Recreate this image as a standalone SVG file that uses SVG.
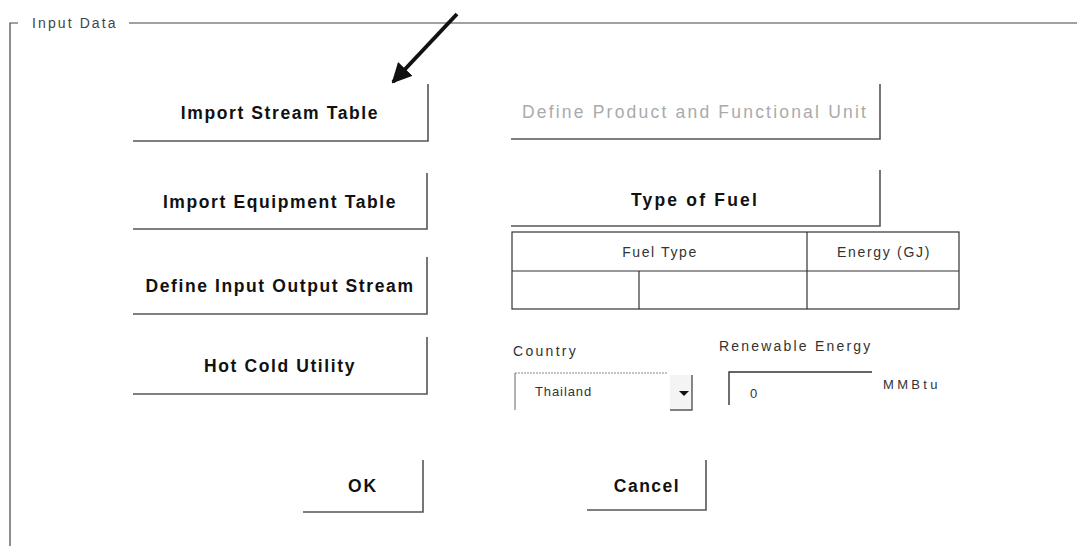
<svg xmlns="http://www.w3.org/2000/svg" width="1077" height="546" viewBox="0 0 1077 546">
<style>
.frame{stroke:#444;stroke-width:1.2;fill:none}
.edge{stroke:#555;stroke-width:1.6;fill:none}
.grid{stroke:#333;stroke-width:1.2;fill:none}
.btn{font-family:"Liberation Sans",Arial,sans-serif;font-size:17.5px;font-weight:bold;fill:#111;text-anchor:middle;letter-spacing:1.6px}
.lbl{font-family:"Liberation Sans",Arial,sans-serif;font-size:14px;fill:#333;letter-spacing:2px}
.dim{fill:#aaa;font-weight:normal;letter-spacing:2.2px}
</style>
<defs>
<marker id="ah" viewBox="0 0 10 10" refX="9" refY="5" markerWidth="5" markerHeight="5" orient="auto-start-reverse">
<path d="M0,0 L10,5 L0,10 z" fill="#111"/>
</marker>
</defs>
<rect width="1077" height="546" fill="#fff"/>
<g id="groupbox">
<path class="frame" d="M10,546 V23 H18 M129,23 H1077"/>
<text class="lbl" x="32" y="28" style="fill:#444;letter-spacing:2.1px">Input Data</text>
</g>
<g id="connectors">
<line x1="457" y1="14" x2="393" y2="82" stroke="#111" stroke-width="4" marker-end="url(#ah)"/>
</g>
<g id="btn-import-stream">
<path class="edge" d="M133,141 H428 V84"/>
<text class="btn" x="280" y="119">Import Stream Table</text>
</g>
<g id="btn-import-equipment">
<path class="edge" d="M133,229 H427 V173"/>
<text class="btn" x="280" y="208">Import Equipment Table</text>
</g>
<g id="btn-define-io">
<path class="edge" d="M133,314 H427 V257"/>
<text class="btn" x="280" y="292">Define Input Output Stream</text>
</g>
<g id="btn-hot-cold">
<path class="edge" d="M133,394 H427 V337"/>
<text class="btn" x="280" y="372">Hot Cold Utility</text>
</g>
<g id="btn-define-product">
<path class="edge" d="M511,139 H880 V84"/>
<text class="btn dim" x="695" y="118">Define Product and Functional Unit</text>
</g>
<g id="btn-type-fuel">
<path class="edge" d="M511,226 H880 V170"/>
<text class="btn" x="695" y="206" style="letter-spacing:2.2px">Type of Fuel</text>
</g>
<g id="fuel-table">
<rect class="grid" x="512" y="232" width="447" height="77"/>
<line class="grid" x1="512" y1="271" x2="959" y2="271"/>
<line class="grid" x1="807" y1="232" x2="807" y2="309"/>
<line class="grid" x1="639" y1="271" x2="639" y2="309"/>
<text class="lbl" x="660" y="257" text-anchor="middle" style="letter-spacing:1.6px">Fuel Type</text>
<text class="lbl" x="884" y="257" text-anchor="middle" style="letter-spacing:1.7px">Energy (GJ)</text>
</g>
<g id="country">
<text class="lbl" x="513" y="356" style="letter-spacing:2.3px">Country</text>
<path d="M515,373 H668" stroke="#888" stroke-width="1" stroke-dasharray="2,1" fill="none"/>
<line x1="515" y1="373" x2="515" y2="410" stroke="#666" stroke-width="1"/>
<rect x="670" y="375" width="22" height="34" fill="#f4f4f4"/>
<path d="M692,375 V410 H670" stroke="#555" stroke-width="1.4" fill="none"/>
<path d="M679,391 H689 L684,396 z" fill="#111"/>
<text class="lbl" x="535" y="396" style="font-size:13px;letter-spacing:0.9px">Thailand</text>
</g>
<g id="renewable">
<text class="lbl" x="719" y="351" style="letter-spacing:2.2px">Renewable Energy</text>
<path d="M729,405 V372 H872" stroke="#333" stroke-width="1.4" fill="none"/>
<text class="lbl" x="750" y="398" style="font-size:13px">0</text>
<text class="lbl" x="883" y="389" style="font-size:13px;letter-spacing:3.3px">MMBtu</text>
</g>
<g id="btn-ok">
<path class="edge" d="M303,512 H423 V460"/>
<text class="btn" x="363" y="492" style="letter-spacing:2px">OK</text>
</g>
<g id="btn-cancel">
<path class="edge" d="M587,510 H706 V460"/>
<text class="btn" x="647" y="492" style="letter-spacing:1.5px">Cancel</text>
</g>
</svg>
